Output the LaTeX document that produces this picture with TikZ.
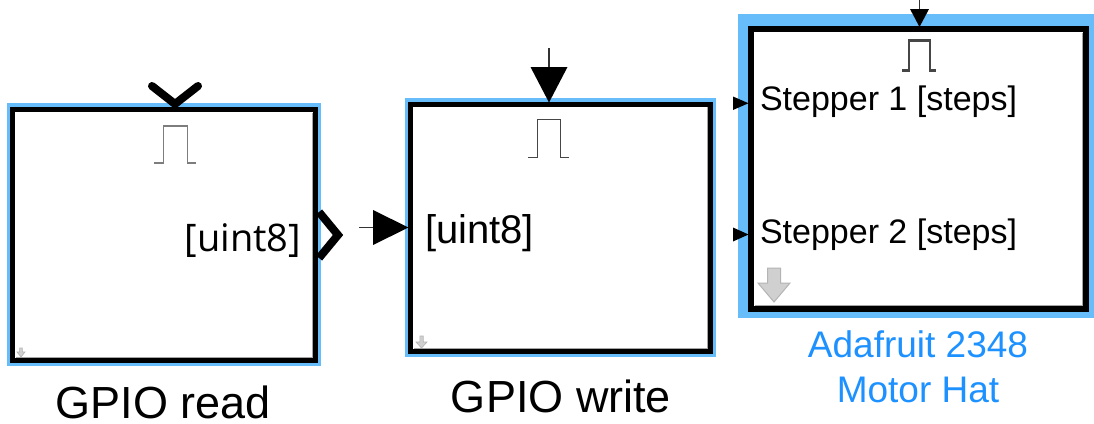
\documentclass[tikz,border=0pt]{standalone}
\usepackage{fontspec}
\setmainfont{Liberation Sans}
\newfontfamily\uifont{Open Sans}
\usetikzlibrary{calc}

\definecolor{halo}{RGB}{102,189,250}
\definecolor{caption}{RGB}{28,145,255}
\definecolor{pulsegray}{RGB}{125,125,125}
\definecolor{pulsedark}{RGB}{70,70,70}
\definecolor{hintfill}{RGB}{208,208,208}
\definecolor{hintedge}{RGB}{180,180,180}
\definecolor{bevelgray}{RGB}{165,165,165}

\begin{document}
\begin{tikzpicture}[x=1pt,y=-1pt,
  block/.style={draw=black, fill=white, line width=5pt, inner sep=0pt, outer sep=0pt},
  bevel/.style={draw=bevelgray, line width=1pt},
  pulse/.style={line width=1.2pt, line join=miter},
  chevron/.style={line width=8pt, line join=miter},
  stub/.style={draw=black!80, line width=1.2pt},
  pin/.style={fill=black},
  hint/.style={fill=hintfill, draw=hintedge, line width=0.6pt},
  blocktext/.style={inner sep=0pt, outer sep=0pt},
  blockname/.style={inner sep=0pt, outer sep=0pt, font=\fontsize{45}{50}\selectfont}]

\useasboundingbox (0,0) rectangle (1094,423);

% selection highlights behind the blocks
\fill[halo] (7,103) rectangle (321,366);
\fill[halo] (405,98) rectangle (716,357);
\fill[halo] (738,14) rectangle (1094,318);

% blocks
\node[block, minimum width=303pt, minimum height=251pt] (b1) at (164,235) {};
\node[block, minimum width=300pt, minimum height=247.5pt] (b2) at (560.5,227.75) {};
\node[block, line width=6pt, minimum width=334.5pt, minimum height=279.5pt] (b3) at (918.25,168.75) {};

% inner shading on the right and bottom edges
\draw[bevel] ($(b1.north east)+(-3,3)$) -- ($(b1.south east)+(-3,-3)$) -- ($(b1.south west)+(3,-3)$);
\draw[bevel] ($(b2.north east)+(-3,3)$) -- ($(b2.south east)+(-3,-3)$) -- ($(b2.south west)+(3,-3)$);
\draw[bevel] ($(b3.north east)+(-3.5,3.5)$) -- ($(b3.south east)+(-3.5,-3.5)$) -- ($(b3.south west)+(3.5,-3.5)$);

% GPIO read: trigger pin on top, output pin on the right
\draw[chevron, line cap=round] (152,86) -- (175,104) -- (198,86);
\draw[chevron] (319,212) -- (338,235) -- (319,258);
\draw[pulse, draw=pulsegray] (154,163) -- (163.3,163) -- (163.3,126) -- (187.3,126) -- (187.3,163) -- (196,163);
\node[blocktext, anchor=east, font=\uifont\fontsize{38}{40}\selectfont] (t1) at (301,241) {[uint8]};
\filldraw[hint] (19.6,348) -- (22.4,348) -- (22.4,352) -- (25,352) -- (21,357) -- (17,352) -- (19.6,352) -- cycle;

% GPIO write: trigger pin on top, data input on the left
\coordinate (trig2) at (549,48);
\coordinate (trig2base) at (549,67);
\draw[stub] (trig2) -- (trig2base);
\fill[pin] (530.5,67) -- (567.5,67) -- (549,102.5) -- cycle;
\coordinate (in2) at (359,227.5);
\coordinate (in2base) at (374,227.5);
\draw[stub] (in2) -- (in2base);
\fill[pin] (373,210) -- (373,245) -- (408.5,227.5) -- cycle;
\draw[pulse, draw=pulsedark, line width=1pt] (528,157) -- (537,157) -- (537,119) -- (560,119) -- (560,157) -- (569,157);
\node[blocktext, anchor=west, font=\fontsize{40}{44}\selectfont] (t2) at (425,233) {[uint8]};
\filldraw[hint] (419.8,336) -- (423.2,336) -- (423.2,342) -- (427,342) -- (421.5,348) -- (416,342) -- (419.8,342) -- cycle;

% Motor hat: trigger pin on top, two stepper inputs on the left
\coordinate (trig3) at (919.5,0);
\coordinate (trig3base) at (919.5,10);
\draw[stub, line width=1.5pt] (trig3) -- (trig3base);
\fill[pin] (910,9) -- (929,9) -- (919.5,27) -- cycle;
\fill[pin] (733,96.5) -- (733,110) -- (748.5,103.25) -- cycle;
\fill[pin] (733,227.5) -- (733,241.5) -- (748.5,234.5) -- cycle;
\draw[pulse, draw=pulsedark, line width=2.4pt] (902,70.5) -- (909,70.5) -- (909,40.5) -- (930,40.5) -- (930,70.5) -- (936,70.5);
\node[blocktext, anchor=west, font=\fontsize{34}{38}\selectfont] (s1) at (760,101.5) {Stepper 1 [steps]};
\node[blocktext, anchor=west, font=\fontsize{34}{38}\selectfont] (s2) at (760,234.5) {Stepper 2 [steps]};
\filldraw[hint, line width=1pt] (767.5,268) -- (780.5,268) -- (780.5,283) -- (790,283) -- (774,302) -- (758,283) -- (767.5,283) -- cycle;

% block names
\node[blockname, anchor=base] (n1) at (163.5,418.5) {GPIO read};
\node[blockname, anchor=base] (n2) at (561,412) {GPIO write};
\node[blocktext, anchor=north, align=center, text=caption, font=\fontsize{37}{45}\selectfont] (n3) at (918,331) {Adafruit 2348\\Motor Hat};

\end{tikzpicture}
\end{document}
